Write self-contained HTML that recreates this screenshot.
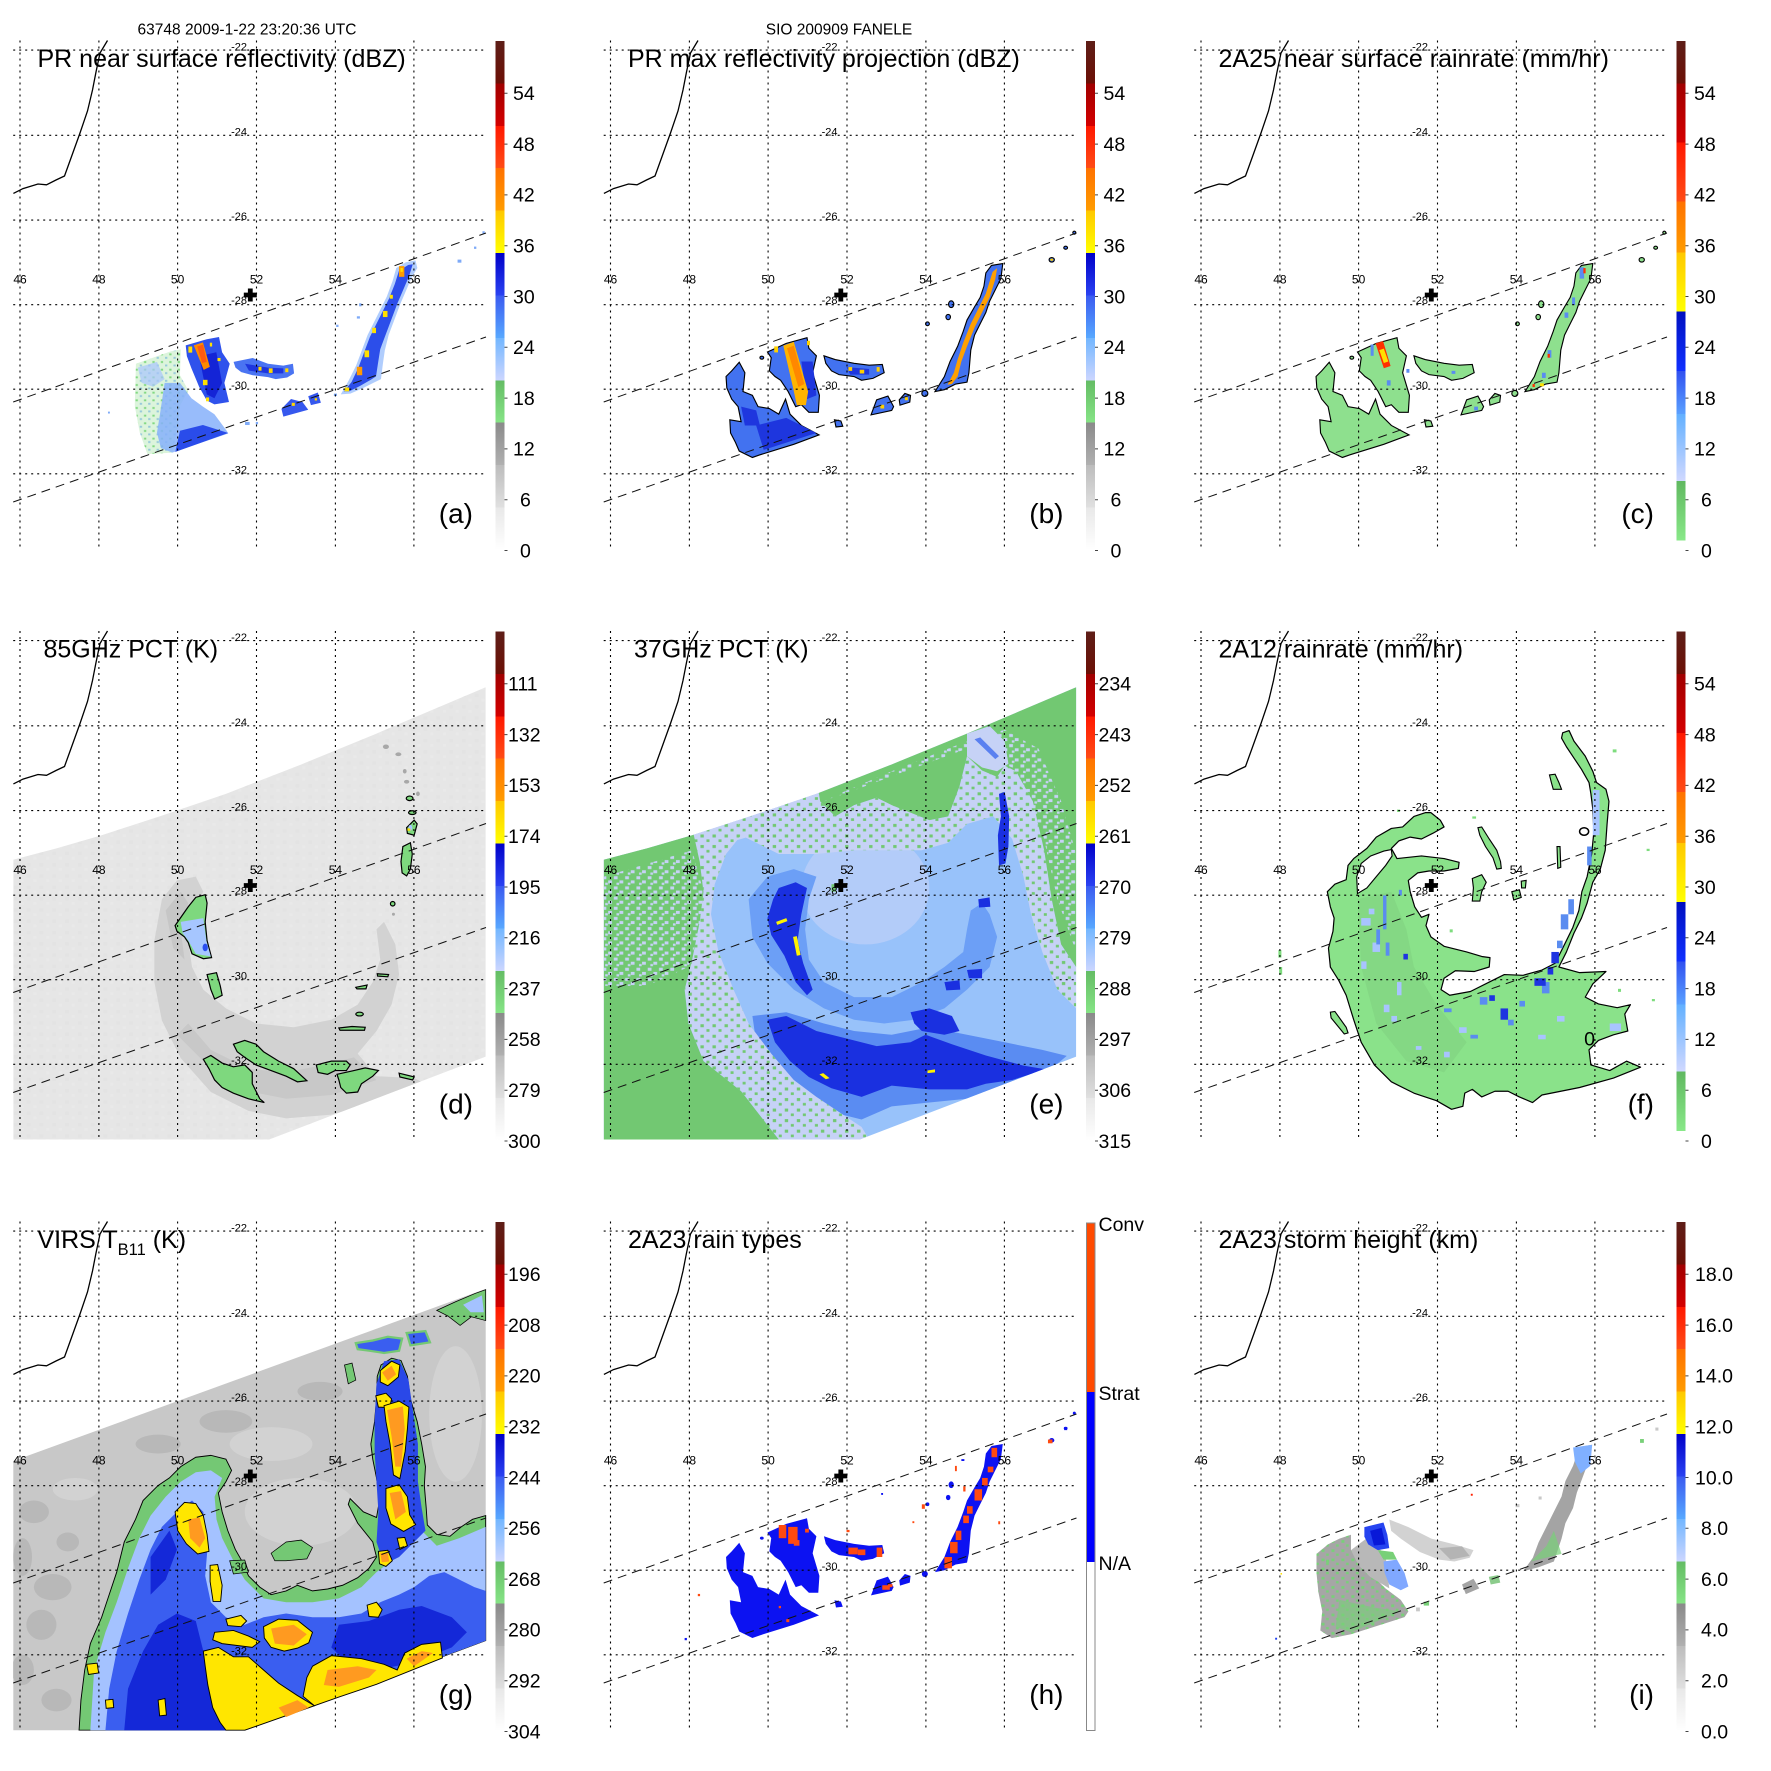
<!DOCTYPE html>
<html><head><meta charset="utf-8">
<style>
html,body{margin:0;padding:0;background:#fff;}
svg{display:block;}
text{font-family:"Liberation Sans",Arial,Helvetica,sans-serif;fill:#000;}
</style></head><body>
<svg xmlns="http://www.w3.org/2000/svg" width="1771" height="1771" viewBox="0 0 1771 1771">
<defs>
 <clipPath id="mc"><rect x="13.2" y="40.5" width="473.3" height="509.3"/></clipPath>
 <clipPath id="swT"><path d="M35,715 L150,685 L270,650 L430,598 L600,540 L800,462 L1000,380 L1290,257 L1290,1238 L715,1458 L35,1458 Z"/></clipPath>
 <linearGradient id="cbU" x1="0" y1="0" x2="0" y2="1">
  <stop offset="0" stop-color="#5e1e18"/><stop offset=".0833" stop-color="#6c1006"/>
  <stop offset=".0833" stop-color="#a00000"/><stop offset=".1667" stop-color="#d40000"/>
  <stop offset=".1667" stop-color="#ff1800"/><stop offset=".25" stop-color="#ff4c16"/>
  <stop offset=".25" stop-color="#ff7200"/><stop offset=".3333" stop-color="#ff9c00"/>
  <stop offset=".3333" stop-color="#ffc800"/><stop offset=".4167" stop-color="#ffff00"/>
  <stop offset=".4167" stop-color="#0000c8"/><stop offset=".5" stop-color="#2a42f2"/>
  <stop offset=".5" stop-color="#3a5af0"/><stop offset=".5833" stop-color="#58a8ff"/>
  <stop offset=".5833" stop-color="#72b6ff"/><stop offset=".6667" stop-color="#ccd6ff"/>
  <stop offset=".6667" stop-color="#64bc64"/><stop offset=".75" stop-color="#86e486"/>
  <stop offset=".75" stop-color="#8a8a8a"/><stop offset=".8333" stop-color="#b0b0b0"/>
  <stop offset=".8333" stop-color="#bcbcbc"/><stop offset=".9167" stop-color="#e0e0e0"/>
  <stop offset=".9167" stop-color="#e8e8e8"/><stop offset="1" stop-color="#ffffff"/>
 </linearGradient>
 <linearGradient id="cbR" x1="0" y1="0" x2="0" y2="1">
  <stop offset="0" stop-color="#5e1e18"/><stop offset=".0837" stop-color="#6c1006"/>
  <stop offset=".0837" stop-color="#a00000"/><stop offset=".199" stop-color="#d40000"/>
  <stop offset=".199" stop-color="#ff1800"/><stop offset=".3151" stop-color="#ff4c16"/>
  <stop offset=".3151" stop-color="#ff7200"/><stop offset=".4151" stop-color="#ff9c00"/>
  <stop offset=".4151" stop-color="#ffc800"/><stop offset=".5318" stop-color="#ffff00"/>
  <stop offset=".5318" stop-color="#0010c0"/><stop offset=".6481" stop-color="#1030ff"/>
  <stop offset=".6481" stop-color="#3050f0"/><stop offset=".7328" stop-color="#5aa0ff"/>
  <stop offset=".7328" stop-color="#62b0ff"/><stop offset=".8644" stop-color="#d0d8ff"/>
  <stop offset=".8644" stop-color="#60b860"/><stop offset=".981" stop-color="#88e888"/>
  <stop offset=".981" stop-color="#ffffff"/><stop offset="1" stop-color="#ffffff"/>
 </linearGradient>
 <pattern id="spkL" width="30" height="27" patternUnits="userSpaceOnUse"><rect x="2" y="3" width="10" height="8" fill="#c6d2f6"/><rect x="17" y="14" width="10" height="8" fill="#c6d2f6"/><rect x="9" y="20" width="7" height="6" fill="#c6d2f6"/></pattern>
 <pattern id="spkG" width="32" height="28" patternUnits="userSpaceOnUse"><rect x="4" y="4" width="9" height="8" fill="#72c872"/><rect x="20" y="17" width="8" height="7" fill="#72c872"/></pattern>
 <pattern id="spkA" width="22" height="20" patternUnits="userSpaceOnUse"><rect x="2" y="3" width="6" height="5" fill="#7ed87e"/><rect x="13" y="12" width="6" height="5" fill="#9cc2fc"/></pattern>
 <pattern id="spkI" width="26" height="24" patternUnits="userSpaceOnUse"><rect x="3" y="4" width="8" height="7" fill="#78d078"/><rect x="15" y="15" width="7" height="6" fill="#78d078"/></pattern>
 <pattern id="spkD" width="34" height="30" patternUnits="userSpaceOnUse"><rect x="3" y="4" width="10" height="9" fill="#dcdcdc"/><rect x="20" y="17" width="9" height="8" fill="#eeeeee"/></pattern>

 <g id="cm">
  <path d="M20,40.5V549.5M98.9,40.5V549.5M177.6,40.5V549.5M256.5,40.5V549.5M335.4,40.5V549.5M413.9,40.5V549.5M13.2,50.1H487M13.2,135.3H487M13.2,220.1H487M13.2,304.7H487M13.2,389.2H487M13.2,473.8H487" stroke="#000" stroke-width="1.1" stroke-dasharray="2,4" fill="none"/>
  <path d="M13.2,402L486,233M13.2,502L486,337" stroke="#111" stroke-width="1" stroke-dasharray="9,6" fill="none"/>
  <polyline points="13.4,193.4 23,188.6 38,184 46.5,184.8 56,180 64.5,176 71,158 80,133 87.5,111 92.5,90 96,72 100,53 107.5,40.5" fill="none" stroke="#000" stroke-width="1.3"/>
  <g font-size="11" text-anchor="end">
   <text x="247" y="50.3">-22</text><text x="247" y="135.6">-24</text><text x="247" y="219.8">-26</text>
   <text x="247" y="304.2">-28</text><text x="247" y="388.9">-30</text><text x="247" y="473.5">-32</text>
  </g>
  <g font-size="12" text-anchor="middle">
   <text x="20" y="283.6">46</text><text x="98.9" y="283.6">48</text><text x="177.6" y="283.6">50</text>
   <text x="256.5" y="283.6">52</text><text x="335.4" y="283.6">54</text><text x="413.9" y="283.6">56</text>
  </g>
  <path d="M243.8,292.6h13v4.8h-13zM247.9,288.5h4.8v13h-4.8z" fill="#000"/>
 </g>
 <path id="tk" d="M504.5,93.3h3M504.5,144.1h3M504.5,194.9h3M504.5,245.7h3M504.5,296.5h3M504.5,347.3h3M504.5,398.1h3M504.5,448.9h3M504.5,499.7h3M504.5,550.5h3" stroke="#444" stroke-width="1"/>

 <g id="fp">
  <path d="M360,1000 L375,985 L395,962 L410,990 L405,1040 L430,1050 L445,1080 L475,1085 L500,1100 L518,1060 L530,1100 L560,1130 L607,1155 L540,1180 L450,1208 L430,1215 L395,1198 L385,1175 L372,1150 L370,1115 L400,1120 L392,1080 L375,1060 L362,1030 Z"/>
  <path d="M470,935 L520,912 L575,897 L580,925 L600,945 L590,990 L608,1050 L605,1095 L580,1095 L560,1075 L545,1080 L525,1040 L505,1010 L490,1000 L475,985 L480,950 Z"/>
  <path d="M620,945 L650,955 L700,965 L740,970 L775,968 L780,990 L750,1005 L720,1010 L700,1000 L660,995 L640,985 L625,965 Z"/>
  <path d="M745,1102 L760,1062 L790,1052 L805,1080 L800,1090 Z"/>
  <path d="M820,1062 L835,1045 L850,1050 L848,1068 L822,1076 Z"/>
  <path d="M915,1040 L940,1000 L955,960 L975,920 L990,880 L1000,850 L1020,815 L1035,790 L1045,760 L1050,725 L1065,705 L1095,700 L1090,740 L1075,770 L1060,800 L1050,830 L1035,860 L1020,890 L1010,930 L1005,990 L1000,1015 L970,1020 L940,1035 Z"/>
  <ellipse cx="888" cy="1045" rx="8" ry="8"/>
  <path d="M648,1115 L665,1118 L670,1132 L652,1134 Z"/>
  <ellipse cx="958" cy="808" rx="7" ry="9"/><ellipse cx="950" cy="842" rx="6" ry="7"/>
  <ellipse cx="1225" cy="690" rx="7" ry="6"/><ellipse cx="1262" cy="658" rx="5" ry="4"/><ellipse cx="1285" cy="618" rx="4" ry="4"/>
  <ellipse cx="455" cy="950" rx="5" ry="4"/><ellipse cx="895" cy="860" rx="5" ry="5"/>
 </g>
</defs>

<rect x="0" y="0" width="1771" height="1771" fill="#fff"/>

<!-- ================= PANEL A ================= -->
<g transform="translate(0,0)">
 <g clip-path="url(#mc)"><g transform="scale(0.3829)">
  <path d="M355,950 L445,918 L472,912 L470,980 L492,1020 L470,1060 L465,1110 L450,1182 L385,1186 L365,1130 L352,1060 Z" fill="url(#spkA)"/>
  <path d="M355,950 L445,918 L472,912 L470,980 L492,1020 L470,1060 L465,1110 L450,1182 L385,1186 L365,1130 L352,1060 Z" fill="#8ada8a" opacity="0.3"/>
  <path d="M360,960 L410,945 L430,990 L400,1010 L370,1000 Z" fill="#a8c4fc" opacity="0.7"/>
  <path d="M430,1000 L470,1000 L500,1040 L530,1062 L560,1082 L592,1125 L596,1132 L450,1182 L420,1170 L410,1130 L418,1080 Z" fill="#86b0fa" opacity="0.85"/>
  <path d="M470,1125 L530,1110 L596,1131 L458,1180 Z" fill="#2a4cea"/>
  <path d="M485,902 L540,886 L572,880 L580,920 L600,950 L586,1000 L598,1050 L560,1056 L540,1046 L520,1010 L500,962 L488,930 Z" fill="#2f52ec"/>
  <path d="M520,930 L565,920 L580,1000 L560,1040 L540,1030 Z" fill="#1424d6"/>
  <path d="M506,902 L530,894 L548,958 L532,966 Z" fill="#ff8a00"/>
  <path d="M515,905 L530,900 L540,945 L528,948 Z" fill="#ff5a10"/>
  <g fill="#ffe000"><rect x="492" y="905" width="10" height="16"/><rect x="530" y="992" width="12" height="14"/><rect x="538" y="1038" width="8" height="10"/><rect x="568" y="935" width="8" height="8"/><rect x="548" y="895" width="6" height="10"/></g>
  <path d="M610,945 L660,935 L700,950 L740,955 L765,950 L768,975 L750,986 L720,990 L700,985 L660,980 L630,972 L615,960 Z" fill="#4a74f2"/>
  <path d="M640,950 L700,960 L740,962 L740,975 L700,975 L650,968 Z" fill="#1e36de"/>
  <g fill="#ffd800"><rect x="675" y="958" width="8" height="10"/><rect x="702" y="962" width="10" height="12"/><rect x="745" y="962" width="8" height="10"/></g>
  <path d="M735,1068 L760,1042 L790,1050 L805,1070 L740,1088 Z" fill="#3658ee"/>
  <path d="M805,1035 L830,1025 L838,1052 L812,1058 Z" fill="#3658ee"/>
  <g fill="#ffd800"><rect x="762" y="1052" width="8" height="8"/><rect x="822" y="1040" width="6" height="6"/></g>
  <path d="M890,1030 L910,995 L930,955 L945,915 L960,875 L980,835 L995,805 L1010,775 L1025,735 L1035,700 L1060,685 L1085,680 L1090,700 L1075,725 L1060,760 L1045,795 L1030,835 L1015,875 L1005,915 L1000,950 L995,990 L975,1000 L945,1015 L915,1028 Z" fill="#9cc0fc" opacity=".8"/>
  <path d="M898,1022 L918,998 L936,960 L951,920 L966,880 L986,840 L1001,810 L1016,780 L1031,742 L1042,707 L1066,692 L1078,690 L1068,722 L1053,757 L1038,792 L1023,832 L1008,872 L993,912 L987,950 L982,983 L968,992 L940,1008 L912,1022 Z" fill="#2c4eea"/>
  <g fill="#ff9a00"><rect x="1042" y="695" width="14" height="28"/><rect x="932" y="958" width="14" height="22"/></g>
  <g fill="#ffe000"><rect x="1000" y="812" width="12" height="16"/><rect x="972" y="856" width="10" height="14"/><rect x="952" y="915" width="12" height="18"/><rect x="900" y="1012" width="12" height="10"/><rect x="1018" y="770" width="8" height="10"/><rect x="1046" y="700" width="6" height="10"/></g>
  <g fill="#7eaaf8"><rect x="1195" y="678" width="10" height="8"/><rect x="1238" y="644" width="6" height="6"/><rect x="1260" y="604" width="6" height="6"/><rect x="938" y="792" width="6" height="8"/><rect x="932" y="826" width="8" height="6"/><rect x="878" y="848" width="6" height="6"/><rect x="872" y="1028" width="8" height="6"/><rect x="640" y="1102" width="12" height="8"/><rect x="668" y="1102" width="6" height="6"/><rect x="282" y="1075" width="5" height="5"/></g>
 </g></g>
 <use href="#cm"/>
 <text x="247" y="34.5" font-size="15.5" text-anchor="middle">63748 2009-1-22 23:20:36 UTC</text>
 <text x="37.5" y="67" font-size="25">PR near surface reflectivity (dBZ)</text>
 <text x="473" y="523" font-size="28" text-anchor="end">(a)</text>
 <rect x="495.5" y="41" width="9" height="509" fill="url(#cbU)"/>
 <use href="#tk"/>
 <g font-size="19.5"><text x="513" y="100.1">54</text><text x="513" y="150.9">48</text><text x="513" y="201.7">42</text><text x="513" y="252.5">36</text><text x="513" y="303.3">30</text><text x="513" y="354.1">24</text><text x="513" y="404.9">18</text><text x="513" y="455.7">12</text><text x="520" y="506.5">6</text><text x="520" y="557.3">0</text></g>
</g>

<!-- ================= PANEL B ================= -->
<g transform="translate(590.5,0)">
 <g clip-path="url(#mc)"><g transform="scale(0.37651)">
  <use href="#fp" fill="#4272f0" stroke="#000" stroke-width="3"/>
  <g fill="#1e36de"><path d="M440,1130 L520,1110 L600,1150 L460,1195 Z"/><path d="M400,1080 L440,1090 L450,1130 L410,1130 Z"/><path d="M560,960 L590,960 L600,1050 L575,1060 Z"/><path d="M680,975 L740,980 L740,995 L690,995 Z"/></g>
  <path d="M512,918 L540,908 L578,1040 L572,1076 L548,1076 L538,1030 Z" fill="#ffb400"/>
  <path d="M522,925 L540,918 L568,1020 L552,1028 Z" fill="#ff8800"/>
  <g fill="#ffd000"><rect x="488" y="920" width="10" height="16"/><rect x="685" y="975" width="10" height="10"/><rect x="715" y="982" width="12" height="10"/><rect x="760" y="975" width="8" height="12"/><rect x="770" y="1075" width="10" height="10"/><rect x="835" y="1055" width="8" height="8"/><rect x="575" y="905" width="8" height="12"/></g>
  <path d="M948,1022 L965,990 L975,955 L990,910 L1010,860 L1030,820 L1050,780 L1068,722 L1080,712 L1075,742 L1060,790 L1040,830 L1020,870 L1000,920 L985,960 L975,1000 L960,1020 Z" fill="#ffa000"/>
  <ellipse cx="1225" cy="690" rx="4" ry="3" fill="#ffd000"/>
 </g></g>
 <use href="#cm"/>
 <text x="248.5" y="34.5" font-size="15.5" text-anchor="middle">SIO 200909 FANELE</text>
 <text x="37.5" y="67" font-size="25">PR max reflectivity projection (dBZ)</text>
 <text x="473" y="523" font-size="28" text-anchor="end">(b)</text>
 <rect x="495.5" y="41" width="9" height="509" fill="url(#cbU)"/>
 <use href="#tk"/>
 <g font-size="19.5"><text x="513" y="100.1">54</text><text x="513" y="150.9">48</text><text x="513" y="201.7">42</text><text x="513" y="252.5">36</text><text x="513" y="303.3">30</text><text x="513" y="354.1">24</text><text x="513" y="404.9">18</text><text x="513" y="455.7">12</text><text x="520" y="506.5">6</text><text x="520" y="557.3">0</text></g>
</g>

<!-- ================= PANEL C ================= -->
<g transform="translate(1181,0)">
 <g clip-path="url(#mc)"><g transform="translate(-0.5,0) scale(0.37651)">
  <use href="#fp" fill="#8ee08e" stroke="#000" stroke-width="3"/>
  <path d="M518,912 L538,906 L558,972 L540,978 Z" fill="#ff3000"/>
  <path d="M528,930 L540,926 L552,960 L540,964 Z" fill="#ffe000"/>
  <g fill="#5a8cf0"><rect x="505" y="915" width="8" height="30"/><rect x="548" y="1010" width="10" height="14"/><rect x="600" y="980" width="8" height="10"/><rect x="1060" y="710" width="12" height="30"/><rect x="1040" y="790" width="8" height="20"/><rect x="1020" y="830" width="10" height="14"/><rect x="975" y="930" width="10" height="20"/><rect x="960" y="990" width="10" height="14"/><rect x="780" y="1080" width="10" height="10"/><rect x="720" y="985" width="10" height="8"/></g>
  <g fill="#ff3000"><rect x="1070" y="712" width="6" height="14"/><rect x="975" y="940" width="6" height="10"/><rect x="935" y="1020" width="6" height="8"/></g>
  <rect x="955" y="1018" width="10" height="8" fill="#ffe000"/>
 </g></g>
 <use href="#cm"/>
 <text x="37.5" y="67" font-size="25">2A25 near surface rainrate (mm/hr)</text>
 <text x="473" y="523" font-size="28" text-anchor="end">(c)</text>
 <rect x="495.5" y="41" width="9" height="509" fill="url(#cbR)"/>
 <use href="#tk"/>
 <g font-size="19.5"><text x="513" y="100.1">54</text><text x="513" y="150.9">48</text><text x="513" y="201.7">42</text><text x="513" y="252.5">36</text><text x="513" y="303.3">30</text><text x="513" y="354.1">24</text><text x="513" y="404.9">18</text><text x="513" y="455.7">12</text><text x="520" y="506.5">6</text><text x="520" y="557.3">0</text></g>
</g>

<!-- ================= PANEL D ================= -->
<g transform="translate(0,590.5)">
 <g clip-path="url(#mc)"><g transform="scale(0.37651)"><g clip-path="url(#swT)">
  <rect x="0" y="200" width="1300" height="1300" fill="#e6e6e6"/>
  <rect x="0" y="200" width="1300" height="1300" fill="url(#spkD)" opacity="0.35"/>
  <path d="M430,820 L470,770 L520,760 L540,800 L510,860 L500,930 L510,1000 L540,1060 L600,1110 L680,1150 L780,1160 L880,1140 L950,1100 L990,1040 L1010,980 L1000,900 L1020,880 L1050,940 L1060,1020 L1040,1100 L1000,1170 L950,1230 L1000,1290 L1100,1295 L1130,1310 L1000,1360 L880,1392 L760,1402 L660,1382 L560,1332 L480,1242 L430,1142 L410,1040 L410,930 Z" fill="#d2d2d2"/>
  <path d="M470,1180 L560,1270 L660,1330 L760,1350 L880,1340 L1000,1300 L940,1240 L860,1260 L760,1280 L660,1270 L560,1220 L500,1150 Z" fill="#c8c8c8"/>
  <path d="M440,850 L480,800 L500,830 L480,900 L490,980 L460,950 Z" fill="#c6c6c6"/>
  <g fill="#a8a8a8"><ellipse cx="1025" cy="415" rx="8" ry="6"/><ellipse cx="1058" cy="435" rx="8" ry="5"/><ellipse cx="1080" cy="508" rx="7" ry="5"/><ellipse cx="1075" cy="480" rx="5" ry="6"/><ellipse cx="1045" cy="860" rx="4" ry="4"/><ellipse cx="1110" cy="540" rx="5" ry="6"/></g>
  <g fill="#7ed87e" stroke="#000" stroke-width="3.2">
   <path d="M465,890 L500,840 L520,815 L545,808 L550,830 L545,880 L550,930 L562,975 L540,978 L510,965 L500,935 L490,920 L470,905 Z"/>
   <path d="M550,1020 L575,1015 L585,1050 L590,1075 L570,1085 L560,1060 L555,1040 Z"/>
   <path d="M540,1245 L560,1235 L590,1255 L620,1265 L650,1260 L670,1280 L670,1310 L690,1350 L702,1360 L660,1350 L620,1335 L590,1320 L570,1300 L555,1270 Z"/>
   <path d="M620,1205 L650,1195 L680,1205 L700,1225 L740,1250 L780,1270 L815,1302 L790,1305 L760,1290 L720,1275 L680,1260 L650,1240 L630,1225 Z"/>
   <path d="M840,1260 L880,1250 L920,1250 L930,1260 L920,1275 L890,1275 L870,1285 L845,1280 Z"/>
   <path d="M895,1285 L940,1275 L970,1268 L1005,1275 L990,1290 L960,1310 L950,1332 L920,1335 L905,1320 L900,1300 Z"/>
   <path d="M1070,680 L1090,670 L1095,700 L1090,740 L1080,758 L1068,750 L1065,720 Z"/>
   <path d="M1080,630 L1100,610 L1108,620 L1100,650 L1082,645 Z"/>
   <ellipse cx="1088" cy="552" rx="9" ry="6"/><ellipse cx="1095" cy="590" rx="10" ry="5"/>
   <path d="M1002,1018 L1032,1020 L1030,1026 L1003,1024 Z"/><path d="M945,1054 L975,1048 L972,1058 L948,1058 Z"/>
   <path d="M900,1162 L935,1158 L970,1160 L968,1168 L903,1168 Z"/><path d="M1060,1282 L1100,1292 L1096,1300 L1062,1292 Z"/>
   <ellipse cx="1043" cy="832" rx="6" ry="6"/><ellipse cx="955" cy="1125" rx="10" ry="5"/>
  </g>
  <path d="M480,880 L540,870 L548,930 L560,972 L520,965 L500,930 L485,910 Z" fill="#a6c6ff"/>
  <ellipse cx="545" cy="948" rx="7" ry="10" fill="#2a4ef0"/>
  <ellipse cx="1090" cy="630" rx="5" ry="8" fill="#a6c6ff"/>
  <rect x="1082" y="632" width="8" height="6" fill="#ffe000"/>
 </g></g></g>
 <use href="#cm"/>
 <text x="43.5" y="67" font-size="25">85GHz PCT (K)</text>
 <text x="473" y="523" font-size="28" text-anchor="end">(d)</text>
 <rect x="495.5" y="41" width="9" height="509" fill="url(#cbU)"/>
 <use href="#tk"/>
 <g font-size="19.5"><text x="508" y="100.1">111</text><text x="508" y="150.9">132</text><text x="508" y="201.7">153</text><text x="508" y="252.5">174</text><text x="508" y="303.3">195</text><text x="508" y="354.1">216</text><text x="508" y="404.9">237</text><text x="508" y="455.7">258</text><text x="508" y="506.5">279</text><text x="508" y="557.3">300</text></g>
</g>

<!-- ================= PANEL E ================= -->
<g transform="translate(590.5,590.5)">
 <g clip-path="url(#mc)"><g transform="scale(0.37651)"><g clip-path="url(#swT)">
  <rect x="0" y="200" width="1300" height="1300" fill="#98c2fa"/>
  <path d="M0,700 L1300,180 L1300,330 L600,600 L400,660 L250,700 L0,780 Z" fill="#c6d2f6"/>
  <ellipse cx="730" cy="790" rx="170" ry="150" fill="#bccff8" opacity="0.75"/>
  <path d="M420,820 L470,760 L540,740 L600,760 L580,820 L570,900 L580,980 L620,1040 L700,1080 L800,1080 L880,1040 L940,1000 L990,960 L1000,900 L1010,850 L1040,830 L1060,860 L1080,920 L1060,1000 L1000,1060 L940,1110 L860,1140 L780,1150 L700,1140 L620,1110 L540,1060 L470,990 L430,920 Z" fill="#6c9ff6"/>
  <path d="M430,1130 L520,1120 L620,1150 L700,1170 L800,1180 L900,1160 L1000,1180 L1100,1200 L1200,1220 L1265,1236 L1200,1290 L1100,1330 L1000,1350 L900,1360 L800,1370 L720,1405 L640,1385 L560,1335 L490,1265 L440,1200 Z" fill="#5a8cf2"/>
  <path d="M270,650 L330,625 L390,605 L400,650 L360,700 L330,780 L320,860 L340,960 L380,1060 L420,1150 L480,1230 L540,1300 L600,1345 L660,1385 L720,1425 L740,1458 L500,1458 L470,1420 L400,1330 L300,1250 L260,1150 L250,1060 L270,980 L290,880 L300,800 L290,720 Z" fill="#c6d2f6"/>
  <path d="M390,600 L600,520 L610,560 L650,600 L700,570 L760,550 L850,590 L900,610 L950,600 L980,520 L1000,440 L1080,430 L1130,480 L1175,560 L1205,690 L1225,820 L1250,940 L1290,1000 L1290,1110 L1240,1060 L1200,960 L1170,860 L1150,760 L1120,660 L1070,600 L1000,620 L950,670 L880,690 L800,690 L700,690 L600,700 L500,700 L400,650 Z" fill="#c6d2f6"/>
  <path d="M270,650 L330,625 L390,605 L400,650 L360,700 L330,780 L320,860 L340,960 L380,1060 L420,1150 L480,1230 L540,1300 L600,1345 L660,1385 L720,1425 L740,1458 L500,1458 L470,1420 L400,1330 L300,1250 L260,1150 L250,1060 L270,980 L290,880 L300,800 L290,720 Z" fill="url(#spkG)"/>
  <path d="M390,600 L600,520 L610,560 L650,600 L700,570 L760,550 L850,590 L900,610 L950,600 L980,520 L1000,440 L1080,430 L1130,480 L1175,560 L1205,690 L1225,820 L1250,940 L1290,1000 L1290,1110 L1240,1060 L1200,960 L1170,860 L1150,760 L1120,660 L1070,600 L1000,620 L950,670 L880,690 L800,690 L700,690 L600,700 L500,700 L400,650 Z" fill="url(#spkG)"/>
  <path d="M0,600 L270,630 L290,720 L300,800 L290,880 L270,980 L250,1060 L260,1150 L300,1250 L400,1330 L470,1420 L500,1458 L0,1458 Z" fill="#72c872"/>
  <path d="M600,500 L1300,200 L1300,1000 L1290,1000 L1250,940 L1225,820 L1205,690 L1175,560 L1130,480 L1100,465 L1080,495 L1040,478 L1000,440 L980,520 L950,600 L900,610 L850,590 L800,570 L760,550 L700,570 L650,600 L610,560 Z" fill="#72c872"/>
  <path d="M35,760 L270,690 L300,800 L290,900 L260,1000 L150,1050 L35,1050 Z" fill="url(#spkL)"/>
  <path d="M620,560 L1000,420 L1120,470 L1200,640 L1240,820 L1290,960 L1290,700 L1250,560 L1190,420 L1100,370 L1000,400 L800,480 L660,540 Z" fill="url(#spkL)"/>
  <path d="M1000,380 L1060,360 L1100,400 L1110,460 L1080,480 L1040,470 L1000,440 Z" fill="#c6d2f6"/>
  <path d="M1020,395 L1035,390 L1085,440 L1075,448 Z" fill="#5a80f0"/>
  <g fill="#1a30e0">
   <path d="M500,790 L545,775 L575,790 L560,860 L550,930 L565,990 L590,1060 L575,1075 L545,1040 L515,970 L480,915 L470,870 L485,820 Z"/>
   <path d="M470,1140 L520,1130 L600,1170 L680,1190 L760,1210 L850,1200 L890,1180 L960,1205 L1050,1235 L1150,1262 L1210,1272 L1120,1300 L1050,1310 L1000,1325 L900,1325 L800,1315 L720,1345 L640,1322 L580,1292 L530,1250 L490,1200 Z"/>
   <path d="M850,1120 L900,1110 L960,1130 L980,1170 L940,1180 L880,1170 L860,1150 Z"/>
   <path d="M1085,540 L1100,535 L1112,600 L1110,680 L1102,725 L1085,730 L1082,650 L1090,600 Z"/>
   <path d="M1030,820 L1060,815 L1062,840 L1032,842 Z"/>
   <path d="M940,1040 L980,1035 L982,1060 L945,1062 Z"/>
   <path d="M1000,1008 L1040,1005 L1040,1030 L1005,1030 Z"/>
  </g>
  <g fill="#fff200">
   <path d="M493,880 L520,870 L523,878 L496,888 Z"/>
   <path d="M538,920 L548,918 L558,968 L548,970 Z"/>
   <path d="M608,1285 L618,1282 L635,1295 L625,1298 Z"/>
   <path d="M895,1275 L915,1272 L915,1280 L895,1282 Z"/>
  </g>
  <rect x="640" y="780" width="12" height="20" fill="#72c872"/>
 </g></g></g>
 <use href="#cm"/>
 <text x="43.5" y="67" font-size="25">37GHz PCT (K)</text>
 <text x="473" y="523" font-size="28" text-anchor="end">(e)</text>
 <rect x="495.5" y="41" width="9" height="509" fill="url(#cbU)"/>
 <use href="#tk"/>
 <g font-size="19.5"><text x="508" y="100.1">234</text><text x="508" y="150.9">243</text><text x="508" y="201.7">252</text><text x="508" y="252.5">261</text><text x="508" y="303.3">270</text><text x="508" y="354.1">279</text><text x="508" y="404.9">288</text><text x="508" y="455.7">297</text><text x="508" y="506.5">306</text><text x="508" y="557.3">315</text></g>
</g>

<!-- ================= PANEL F ================= -->
<g transform="translate(1181,590.5)">
 <g clip-path="url(#mc)"><g transform="translate(-0.5,0) scale(0.37651)">
  <path d="M1015,378 L1032,372 L1045,400 L1075,440 L1095,480 L1105,510 L1130,528 L1138,560 L1133,620 L1128,690 L1115,740 L1095,775 L1080,830 L1065,870 L1045,910 L1025,960 L1005,1000 L1060,1015 L1130,1012 L1095,1045 L1075,1080 L1110,1098 L1160,1108 L1195,1100 L1180,1125 L1188,1170 L1150,1180 L1110,1195 L1085,1220 L1090,1260 L1140,1275 L1185,1250 L1222,1266 L1150,1295 L1060,1320 L960,1340 L935,1360 L900,1345 L870,1330 L835,1330 L800,1345 L775,1325 L755,1335 L750,1370 L720,1378 L680,1355 L620,1335 L560,1305 L515,1260 L480,1200 L460,1140 L440,1075 L420,1035 L398,1000 L393,950 L405,905 L408,870 L398,840 L390,800 L410,780 L440,768 L445,730 L460,712 L495,685 L520,655 L560,632 L590,628 L620,600 L650,590 L665,590 L690,610 L700,628 L670,645 L640,660 L610,655 L580,665 L560,685 L575,712 L640,705 L700,712 L740,722 L738,738 L700,745 L660,745 L630,750 L605,770 L610,800 L622,840 L640,868 L660,860 L652,890 L665,920 L700,945 L760,960 L800,972 L822,975 L820,1000 L780,1012 L730,1010 L700,1030 L692,1060 L715,1075 L770,1065 L830,1035 L860,1020 L910,1022 L960,1008 L995,990 L1020,940 L1042,895 L1058,850 L1066,800 L1080,760 L1092,700 L1098,640 L1095,580 L1090,540 L1085,510 L1065,475 L1045,445 L1025,415 L1012,392 Z" fill="#8ae28a" stroke="#000" stroke-width="3.2" stroke-linejoin="round"/>
  <path d="M470,820 L560,800 L600,900 L620,1000 L680,1100 L760,1200 L700,1280 L600,1250 L520,1150 L480,1000 Z" fill="#7ccc7c" opacity="0.45"/>
  <path d="M470,805 L468,760 L480,725 L505,705 L540,692 L560,688 L562,705 L545,730 L520,760 L495,790 Z" fill="#fff" stroke="#000" stroke-width="3"/>
  <g fill="#8ae28a" stroke="#000" stroke-width="3">
   <path d="M790,630 L800,628 L820,660 L840,690 L850,720 L852,738 L840,740 L830,710 L810,680 L795,650 Z"/>
   <path d="M775,765 L800,755 L812,775 L800,800 L795,825 L775,825 L778,790 Z"/>
   <path d="M980,490 L995,488 L1005,510 L1012,528 L990,528 L985,510 Z"/>
   <path d="M880,800 L900,795 L905,815 L885,822 Z"/>
   <path d="M1000,680 L1008,680 L1010,735 L1002,738 Z"/>
   <path d="M398,1120 L410,1118 L440,1160 L445,1175 L435,1178 L400,1135 Z"/>
   <path d="M905,772 L918,770 L916,790 L906,790 Z"/>
  </g>
  <g fill="#7edc7e"><rect x="260" y="955" width="8" height="20"/><rect x="262" y="1000" width="8" height="20"/><rect x="1148" y="422" width="10" height="8"/><rect x="1238" y="686" width="8" height="6"/><rect x="1252" y="1085" width="8" height="6"/><rect x="1162" y="1058" width="8" height="8"/><rect x="575" y="582" width="8" height="6"/><rect x="775" y="600" width="10" height="6"/><rect x="715" y="900" width="8" height="8"/></g>
  <g fill="#a8c4ff"><rect x="480" y="870" width="25" height="20"/><rect x="500" y="845" width="15" height="15"/><rect x="510" y="935" width="20" height="25"/><rect x="575" y="1040" width="12" height="35"/><rect x="540" y="1100" width="15" height="20"/><rect x="560" y="1130" width="15" height="15"/><rect x="740" y="1160" width="20" height="15"/><rect x="625" y="1210" width="15" height="10"/><rect x="1095" y="530" width="18" height="120"/><rect x="1140" y="1150" width="30" height="20"/><rect x="700" y="1225" width="15" height="15"/><rect x="480" y="985" width="14" height="20"/><rect x="950" y="1180" width="20" height="12"/><rect x="1000" y="1130" width="20" height="15"/></g>
  <g fill="#5a8cf0"><rect x="520" y="900" width="10" height="40"/><rect x="538" y="810" width="9" height="90"/><rect x="545" y="935" width="10" height="35"/><rect x="700" y="1110" width="20" height="10"/><rect x="770" y="1180" width="20" height="10"/><rect x="795" y="1080" width="20" height="20"/><rect x="870" y="1140" width="15" height="15"/><rect x="960" y="1040" width="20" height="30"/><rect x="1000" y="930" width="15" height="20"/><rect x="1080" y="680" width="12" height="50"/><rect x="1030" y="820" width="15" height="40"/><rect x="1010" y="860" width="20" height="40"/><rect x="580" y="795" width="8" height="15"/><rect x="900" y="1090" width="15" height="15"/></g>
  <g fill="#1e34e0"><rect x="592" y="965" width="12" height="15"/><rect x="820" y="1075" width="15" height="15"/><rect x="850" y="1110" width="20" height="30"/><rect x="940" y="1030" width="30" height="20"/><rect x="975" y="1000" width="15" height="20"/><rect x="985" y="960" width="20" height="30"/></g>
  <ellipse cx="1072" cy="640" rx="12" ry="10" fill="#fff" stroke="#000" stroke-width="4"/>
  <text x="1072" y="1208" font-size="52">0</text>
 </g></g>
 <use href="#cm"/>
 <text x="37.5" y="67" font-size="25">2A12 rainrate (mm/hr)</text>
 <text x="473" y="523" font-size="28" text-anchor="end">(f)</text>
 <rect x="495.5" y="41" width="9" height="509" fill="url(#cbR)"/>
 <use href="#tk"/>
 <g font-size="19.5"><text x="513" y="100.1">54</text><text x="513" y="150.9">48</text><text x="513" y="201.7">42</text><text x="513" y="252.5">36</text><text x="513" y="303.3">30</text><text x="513" y="354.1">24</text><text x="513" y="404.9">18</text><text x="513" y="455.7">12</text><text x="520" y="506.5">6</text><text x="520" y="557.3">0</text></g>
</g>

<!-- ================= PANEL G ================= -->
<g transform="translate(0,1181)">
 <g clip-path="url(#mc)"><g transform="translate(0,-0.5) scale(0.37651)">
  <path d="M35,745 L1290,288 L1290,1222 L650,1460 L35,1460 Z" fill="#c8c8c8"/>
  <g fill="#b8b8b8"><ellipse cx="90" cy="880" rx="40" ry="30"/><ellipse cx="60" cy="1000" rx="25" ry="50"/><ellipse cx="140" cy="1080" rx="50" ry="35"/><ellipse cx="110" cy="1180" rx="40" ry="40"/><ellipse cx="180" cy="960" rx="30" ry="25"/><ellipse cx="60" cy="1300" rx="30" ry="40"/><ellipse cx="150" cy="1380" rx="40" ry="30"/><ellipse cx="420" cy="700" rx="60" ry="25"/><ellipse cx="600" cy="640" rx="70" ry="30"/><ellipse cx="850" cy="560" rx="60" ry="25"/></g>
  <g fill="#d2d2d2"><ellipse cx="800" cy="880" rx="150" ry="90"/><ellipse cx="720" cy="700" rx="110" ry="45"/><ellipse cx="200" cy="820" rx="60" ry="30"/><ellipse cx="1210" cy="620" rx="70" ry="180"/></g>
  <path d="M210,1460 L215,1380 L225,1300 L240,1230 L270,1160 L290,1100 L310,1040 L330,960 L360,900 L380,850 L420,810 L450,790 L480,760 L520,735 L560,730 L600,740 L615,770 L600,800 L580,830 L590,880 L605,930 L625,980 L645,1015 L660,1050 L690,1080 L720,1100 L760,1090 L790,1075 L830,1090 L870,1085 L910,1075 L950,1055 L980,1030 L1000,1000 L990,960 L950,910 L925,860 L930,845 L965,880 L1000,895 L1008,850 L1000,790 L990,740 L985,700 L995,640 L1000,580 L1002,520 L1012,490 L1040,472 L1065,478 L1082,520 L1090,580 L1108,640 L1120,700 L1130,760 L1127,810 L1132,870 L1135,915 L1160,940 L1195,945 L1225,920 L1255,900 L1290,890 L1290,1222 L650,1460 Z" fill="#74c874" stroke="#000" stroke-width="2.5"/>
  <path d="M240,1460 L250,1300 L280,1200 L310,1120 L340,1030 L370,950 L400,890 L440,840 L480,800 L520,775 L560,770 L590,790 L570,840 L575,900 L590,950 L620,1010 L650,1060 L700,1110 L760,1120 L830,1120 L900,1110 L960,1080 L1000,1040 L1040,1010 L1080,960 L1100,900 L1090,850 L1080,800 L1085,760 L1100,800 L1110,870 L1120,930 L1160,970 L1220,950 L1290,920 L1290,1222 L650,1460 Z" fill="#a4c2ff"/>
  <path d="M280,1460 L290,1350 L310,1250 L340,1150 L370,1060 L400,980 L430,920 L470,880 L510,850 L540,880 L550,990 L545,1050 L560,1120 L600,1160 L650,1180 L700,1160 L760,1150 L830,1160 L900,1160 L960,1150 L1010,1120 L1060,1100 L1100,1080 L1140,1050 L1180,1040 L1220,1060 L1260,1080 L1290,1090 L1290,1222 L650,1460 Z" fill="#3a5ef0"/>
  <g fill="#1428d8">
   <path d="M330,1460 L340,1350 L380,1250 L420,1180 L470,1150 L520,1170 L540,1250 L560,1350 L600,1460 Z"/>
   <path d="M900,1180 L980,1170 L1060,1140 L1120,1130 L1200,1160 L1240,1200 L1200,1240 L1100,1280 L1000,1300 L920,1280 L880,1240 Z"/>
   <path d="M400,1000 L450,930 L470,980 L440,1060 L400,1100 Z"/>
  </g>
  <path d="M1000,540 L1020,480 L1060,475 L1085,530 L1095,600 L1110,700 L1110,800 L1120,870 L1130,930 L1100,960 L1060,1000 L1020,1020 L1000,960 L1005,880 L1000,800 L995,720 L995,640 Z" fill="#2a48e8"/>
  <g fill="#3a5ef0" stroke="#74c874" stroke-width="6">
   <path d="M945,432 L990,425 L1030,415 L1068,420 L1060,452 L1020,458 L980,452 L950,448 Z"/>
   <path d="M1080,405 L1130,400 L1142,430 L1090,438 Z"/>
  </g>
  <path d="M1160,345 L1210,322 L1262,300 L1290,290 L1290,372 L1252,362 L1222,385 L1190,360 Z" fill="#74c874" stroke="#000" stroke-width="2"/>
  <path d="M1230,330 L1280,305 L1285,350 L1250,350 Z" fill="#a4c2ff"/>
  <g fill="#74c874" stroke="#000" stroke-width="2">
   <path d="M915,490 L935,485 L945,530 L925,540 Z"/>
   <path d="M720,990 L760,960 L800,955 L830,975 L815,1005 L760,1010 L730,1010 Z"/>
   <path d="M610,1010 L650,1008 L660,1040 L620,1045 Z"/>
  </g>
  <g fill="#ffe600" stroke="#000" stroke-width="2.5">
   <path d="M465,880 L490,855 L520,858 L540,890 L550,940 L555,985 L525,992 L495,965 L472,930 Z"/>
   <path d="M558,1022 L578,1020 L590,1075 L586,1118 L566,1118 L558,1065 Z"/>
   <path d="M540,1250 L580,1240 L620,1265 L660,1265 L700,1300 L740,1335 L790,1368 L835,1395 L650,1460 L600,1460 L585,1440 L565,1400 L552,1340 L545,1290 Z"/>
   <path d="M700,1185 L740,1165 L790,1168 L830,1200 L820,1228 L790,1242 L755,1250 L720,1240 L702,1215 Z"/>
   <path d="M600,1165 L640,1155 L655,1170 L640,1185 L605,1182 Z"/>
   <path d="M570,1200 L620,1195 L660,1210 L690,1225 L670,1240 L630,1235 L590,1230 L565,1220 Z"/>
   <path d="M830,1290 L880,1262 L960,1270 L1020,1285 L1055,1300 L1075,1255 L1120,1232 L1170,1226 L1175,1268 L1000,1338 L900,1372 L835,1395 L805,1370 L815,1320 Z"/>
   <path d="M1010,505 L1040,480 L1062,490 L1058,522 L1030,545 L1010,535 Z"/>
   <path d="M998,572 L1025,565 L1040,580 L1035,603 L1005,602 Z"/>
   <path d="M1020,598 L1060,586 L1086,602 L1082,660 L1076,720 L1062,792 L1045,782 L1036,700 L1025,640 Z"/>
   <path d="M1025,818 L1060,808 L1082,840 L1088,888 L1104,914 L1072,932 L1038,912 L1025,870 Z"/>
   <path d="M1005,985 L1030,982 L1042,1010 L1025,1025 L1008,1018 Z"/>
   <path d="M975,1128 L1000,1120 L1015,1140 L1005,1160 L980,1158 Z"/>
   <path d="M1055,950 L1075,948 L1082,970 L1062,980 Z"/>
   <path d="M230,1285 L258,1282 L262,1308 L235,1312 Z"/>
   <path d="M280,1380 L300,1378 L302,1400 L282,1402 Z"/>
   <path d="M420,1380 L438,1376 L442,1420 L424,1422 Z"/>
  </g>
  <g fill="#ff9a20">
   <path d="M500,900 L530,895 L545,950 L530,975 L505,950 Z"/>
   <path d="M720,1190 L780,1180 L815,1205 L780,1235 L730,1230 Z"/>
   <path d="M870,1300 L950,1290 L1000,1300 L980,1320 L900,1345 L860,1340 Z"/>
   <path d="M1080,1270 L1120,1250 L1150,1255 L1100,1290 Z"/>
   <path d="M1028,610 L1070,600 L1075,660 L1065,760 L1050,760 L1040,680 Z"/>
   <path d="M1035,830 L1065,825 L1078,880 L1050,900 Z"/>
   <path d="M1015,510 L1040,492 L1052,515 L1030,532 Z"/>
   <path d="M1010,990 L1030,990 L1034,1012 L1014,1014 Z"/>
   <path d="M740,1400 L790,1380 L820,1400 L760,1425 Z"/>
  </g>
 </g></g>
 <use href="#cm"/>
 <text x="37.5" y="67" font-size="25">VIRS T<tspan font-size="16.5" dy="7">B11</tspan><tspan dy="-7"> (K)</tspan></text>
 <text x="473" y="523" font-size="28" text-anchor="end">(g)</text>
 <rect x="495.5" y="41" width="9" height="509" fill="url(#cbU)"/>
 <use href="#tk"/>
 <g font-size="19.5"><text x="508" y="100.1">196</text><text x="508" y="150.9">208</text><text x="508" y="201.7">220</text><text x="508" y="252.5">232</text><text x="508" y="303.3">244</text><text x="508" y="354.1">256</text><text x="508" y="404.9">268</text><text x="508" y="455.7">280</text><text x="508" y="506.5">292</text><text x="508" y="557.3">304</text></g>
</g>

<!-- ================= PANEL H ================= -->
<g transform="translate(590.5,1181)">
 <g clip-path="url(#mc)"><g transform="translate(0,-0.5) scale(0.37651)">
  <use href="#fp" fill="#0c12f2"/>
  <g fill="#ff4a10">
   <rect x="500" y="915" width="20" height="35"/><rect x="525" y="920" width="25" height="45"/><rect x="540" y="955" width="15" height="15"/><rect x="570" y="925" width="10" height="10"/>
   <rect x="685" y="975" width="25" height="18"/><rect x="710" y="980" width="20" height="15"/><rect x="760" y="975" width="15" height="25"/><rect x="775" y="1075" width="20" height="12"/><rect x="790" y="1072" width="12" height="8"/>
   <rect x="940" y="1000" width="20" height="30"/><rect x="955" y="960" width="20" height="30"/><rect x="970" y="930" width="15" height="25"/><rect x="990" y="890" width="15" height="20"/><rect x="1000" y="865" width="15" height="20"/><rect x="1020" y="820" width="20" height="30"/><rect x="1040" y="790" width="15" height="20"/><rect x="1055" y="760" width="15" height="15"/><rect x="1065" y="710" width="15" height="25"/>
   <rect x="1215" y="688" width="12" height="10"/><rect x="880" y="860" width="8" height="12"/><rect x="990" y="812" width="6" height="14"/><rect x="968" y="758" width="5" height="14"/><rect x="520" y="1165" width="8" height="8"/><rect x="500" y="1130" width="6" height="6"/><rect x="285" y="1098" width="6" height="6"/><rect x="680" y="928" width="8" height="6"/><rect x="855" y="905" width="5" height="5"/><rect x="1083" y="905" width="5" height="8"/>
  </g>
  <g fill="#0c12f2"><rect x="250" y="1215" width="6" height="6"/><rect x="1258" y="655" width="8" height="8"/><rect x="985" y="740" width="8" height="5"/><rect x="772" y="830" width="5" height="5"/></g>
 </g></g>
 <use href="#cm"/>
 <text x="37.5" y="67" font-size="25">2A23 rain types</text>
 <text x="473" y="523" font-size="28" text-anchor="end">(h)</text>
 <rect x="496" y="42" width="8.5" height="169" fill="#ff4a00"/>
 <rect x="496" y="211" width="8.5" height="170" fill="#0000ff"/>
 <rect x="496" y="42" width="8.5" height="507.5" fill="none" stroke="#888" stroke-width="1"/>
 <g font-size="19.5"><text x="508" y="50">Conv</text><text x="508" y="219">Strat</text><text x="508" y="389">N/A</text></g>
</g>

<!-- ================= PANEL I ================= -->
<g transform="translate(1181,1181)">
 <g clip-path="url(#mc)"><g transform="translate(-10,-10) scale(0.3829)">
  <path d="M380,1000 L410,975 L440,960 L470,950 L470,990 L500,1030 L530,1060 L560,1090 L600,1120 L620,1150 L610,1165 L470,1210 L420,1220 L390,1200 L395,1150 L385,1100 L380,1050 Z" fill="#a6a6a6"/>
  <path d="M380,1000 L410,975 L440,960 L470,950 L470,990 L500,1030 L530,1060 L560,1090 L600,1120 L620,1150 L610,1165 L470,1210 L420,1220 L390,1200 L395,1150 L385,1100 L380,1050 Z" fill="url(#spkI)"/>
  <path d="M440,1120 L530,1140 L600,1150 L470,1205 L430,1190 Z" fill="#78d078" opacity="0.6"/>
  <path d="M470,990 L510,960 L560,1000 L570,1090 L520,1060 L490,1030 Z" fill="#b8b8b8"/>
  <path d="M570,910 L620,930 L680,960 L740,975 L790,990 L780,1010 L740,1020 L700,1015 L650,995 L600,960 L575,940 Z" fill="#d2d2d2"/>
  <path d="M700,985 L760,980 L780,1005 L730,1015 Z" fill="#b4b4b4"/>
  <path d="M505,930 L555,918 L565,950 L570,985 L540,990 L515,975 L505,955 Z" fill="#2644f0"/>
  <path d="M520,940 L550,932 L560,975 L530,978 Z" fill="#0818d8"/>
  <path d="M540,990 L580,995 L590,1015 L555,1015 Z" fill="#78d078"/>
  <path d="M555,1020 L590,1015 L610,1050 L620,1085 L600,1095 L570,1080 L558,1050 Z" fill="#80a8ff"/>
  <path d="M920,1045 L945,1010 L960,970 L980,930 L1000,890 L1020,850 L1030,810 L1050,770 L1060,740 L1070,720 L1100,715 L1090,760 L1075,800 L1060,840 L1050,880 L1030,920 L1020,960 L1010,990 L1000,1020 L960,1035 Z" fill="#a4a4a4"/>
  <path d="M940,1020 L980,980 L1000,940 L1020,1000 Z" fill="#78d078" opacity="0.7"/>
  <path d="M1050,722 L1100,715 L1095,770 L1070,790 L1055,760 Z" fill="#80b0ff"/>
  <path d="M760,1080 L790,1065 L805,1090 L770,1105 Z" fill="#a4a4a4"/>
  <path d="M830,1060 L855,1055 L860,1075 L835,1080 Z" fill="#8ccc8c"/>
  <g fill="#78d078"><rect x="660" y="1125" width="14" height="10"/><rect x="1225" y="700" width="10" height="10"/><rect x="405" y="1015" width="8" height="8"/></g>
  <g fill="#c8c8c8"><rect x="900" y="870" width="10" height="8"/><rect x="960" y="850" width="8" height="8"/><rect x="640" y="1140" width="10" height="10"/><rect x="1265" y="670" width="8" height="8"/></g>
  <rect x="783" y="843" width="5" height="5" fill="#ff2000"/>
  <rect x="272" y="1219" width="5" height="5" fill="#2040f0"/>
  <rect x="286" y="1050" width="4" height="4" fill="#ffe000"/>
 </g></g>
 <use href="#cm"/>
 <text x="37.5" y="67" font-size="25">2A23 storm height (km)</text>
 <text x="473" y="523" font-size="28" text-anchor="end">(i)</text>
 <rect x="495.5" y="41" width="9" height="509" fill="url(#cbU)"/>
 <use href="#tk"/>
 <g font-size="19.5"><text x="514" y="100.1">18.0</text><text x="514" y="150.9">16.0</text><text x="514" y="201.7">14.0</text><text x="514" y="252.5">12.0</text><text x="514" y="303.3">10.0</text><text x="520" y="354.1">8.0</text><text x="520" y="404.9">6.0</text><text x="520" y="455.7">4.0</text><text x="520" y="506.5">2.0</text><text x="520" y="557.3">0.0</text></g>
</g>
</svg>
</body></html>
